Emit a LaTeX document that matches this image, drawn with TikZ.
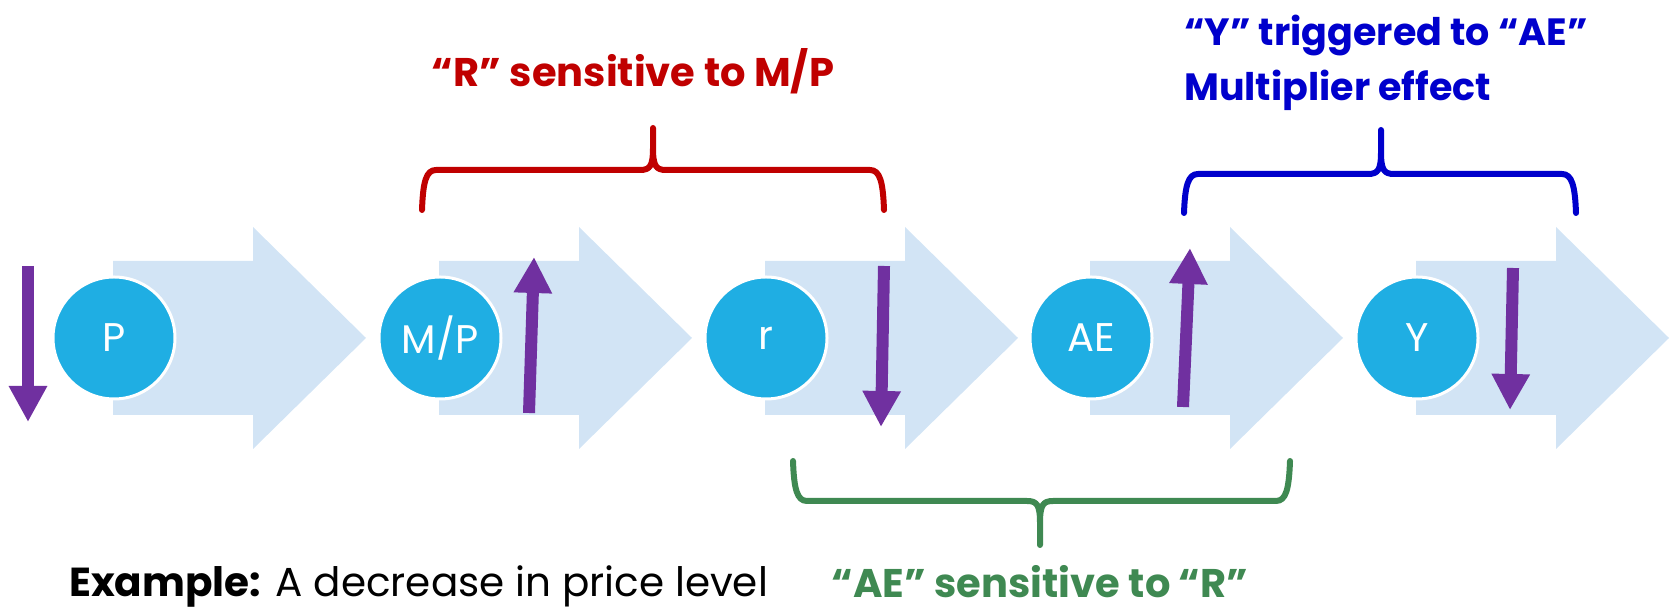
\documentclass[tikz,border=0pt]{standalone}
\usepackage{fontspec}
\setmainfont{Poppins}
\usetikzlibrary{arrows.meta}

\definecolor{stagecyan}{HTML}{1FAEE3}
\definecolor{flowblue}{HTML}{D2E4F5}
\definecolor{moveviolet}{HTML}{7030A0}
\definecolor{sensred}{HTML}{C00000}
\definecolor{trigblue}{HTML}{0000CC}
\definecolor{aegreen}{HTML}{3F8952}

\begin{document}
\begin{tikzpicture}[x=1pt, y=1pt, >=Triangle]
\tikzset{
  stage/.style={circle, fill=stagecyan, draw=white, line width=3pt, minimum size=122pt,
    inner sep=0pt, text=white, font=\fontsize{40}{48}\selectfont},
  flow/.style={fill=flowblue},
  pricearrow/.style={draw=moveviolet, line width=12pt, -{Triangle[width=36pt,length=36pt]}},
  curlyline/.style={line width=6pt, line cap=round, line join=round},
  heading/.style={font=\bfseries\fontsize{40}{55}\selectfont, inner sep=0pt},
}
\useasboundingbox (0,0) rectangle (1671,612);

    % --- Chain of stages: big arrow first, circle on top ---
    \foreach \name/\lbl/\cx in {P/P/114, MP/{M/P}/440, r/r/766, AE/AE/1091, Y/Y/1417}{
      \fill[flow] (\cx-1,197) -- (\cx+139,197) -- (\cx+139,163) -- (\cx+252,274)
                  -- (\cx+139,385) -- (\cx+139,351) -- (\cx-1,351) -- cycle;
      \node[stage] (\name) at (\cx,274) {\lbl};
    }

    % --- Up / down movements ---
    \draw[pricearrow] (28,346) -- (28,190);
    \draw[pricearrow] (529,199) -- (534,355);
    \draw[pricearrow] (884,346) -- (881,185);
    \draw[pricearrow] (1183,205) -- (1190,364);
    \draw[pricearrow] (1513,344) -- (1510,202);

    % --- Braces ---
    % M/P to r
    \draw[curlyline, sensred] (422,402) .. controls +(1,28) and +(-10,0) .. (436,442)
        -- (640,442) .. controls +(10,0) and +(0,-18) .. (653,464) -- (653,484)
        -- (653,464) .. controls +(0,-18) and +(-10,0) .. (666,442)
        -- (870,442) .. controls +(10,0) and +(-1,28) .. (884,402);
    % AE to Y
    \draw[curlyline, trigblue] (1184,399) .. controls +(1,27) and +(-10,0) .. (1198,438)
        -- (1368,438) .. controls +(10,0) and +(0,-18) .. (1381,460) -- (1381,482)
        -- (1381,460) .. controls +(0,-18) and +(-10,0) .. (1394,438)
        -- (1562,438) .. controls +(10,0) and +(-1,27) .. (1576,399);
    % r to AE, opening upwards
    \draw[curlyline, aegreen] (793,151) .. controls +(1,-28) and +(-10,0) .. (807,111)
        -- (1027,111) .. controls +(10,0) and +(0,18) .. (1040,89) -- (1040,67)
        -- (1040,89) .. controls +(0,18) and +(-10,0) .. (1053,111)
        -- (1276,111) .. controls +(10,0) and +(-1,-28) .. (1290,151);

    % --- Labels ---
    \node[heading, text=sensred, anchor=base] (rtitle) at (633,525) {“R” sensitive to M/P};
    \node[heading, text=trigblue, anchor=north west, align=left,
          font=\bfseries\fontsize{38}{55}\selectfont] (ytitle) at (1184,597)
        {“Y” triggered to “AE”\\Multiplier effect};
    \node[heading, text=aegreen, anchor=base, text depth=0pt] (aetitle) at (1040,14)
        {“AE” sensitive to “R”};
    \node[font=\fontsize{40.5}{48}\selectfont, anchor=base west, inner sep=0pt] (example)
        at (69,15) {\textbf{Example:} A decrease in price level};

\end{tikzpicture}
\end{document}
